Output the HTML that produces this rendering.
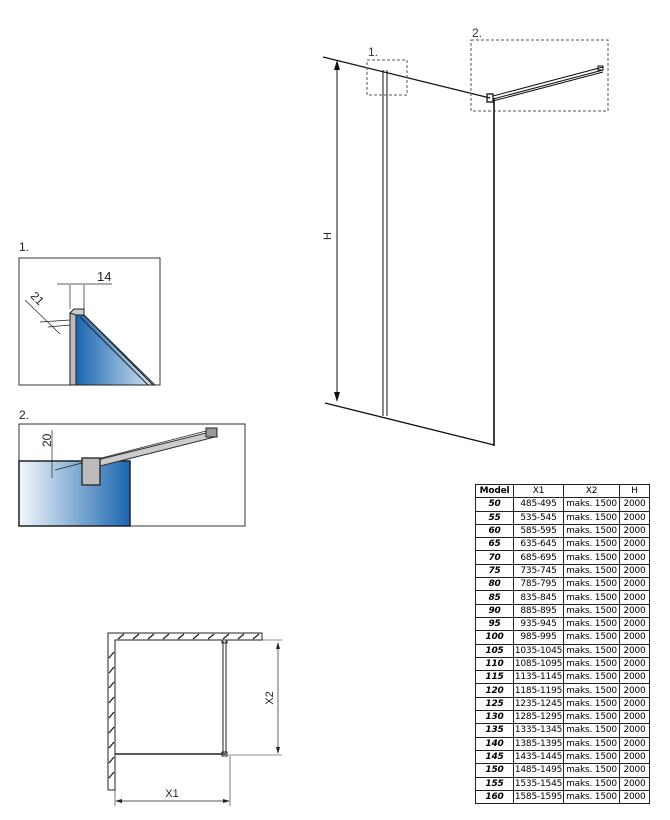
<!DOCTYPE html>
<html><head><meta charset="utf-8"><style>
body{margin:0;background:#fff;width:670px;height:820px;overflow:hidden;position:relative;font-family:"Liberation Sans",sans-serif}
svg{position:absolute;left:0;top:0}
table{position:absolute;left:475px;top:484px;border-collapse:collapse;font-size:9px;font-family:"DejaVu Sans","Liberation Sans",sans-serif;letter-spacing:-0.2px}
td{border:1px solid #222;height:12.3px;padding:0;text-align:center;line-height:12px;white-space:nowrap;overflow:hidden}
td:nth-child(1){width:37px;max-width:37px;font-weight:bold;font-style:italic}
td:nth-child(2){width:49px;max-width:49px}
td:nth-child(3){width:55px;max-width:55px}
td:nth-child(4){width:29px;max-width:29px}
tr:first-child td{font-style:normal}
</style></head><body>
<svg width="670" height="820" viewBox="0 0 670 820">
<defs>
<linearGradient id="g1" x1="0" x2="1"><stop offset="0" stop-color="#1a66b0"/><stop offset="1" stop-color="#d8e8f4"/></linearGradient>
<linearGradient id="g2" x1="0" x2="1"><stop offset="0" stop-color="#f4f8fc"/><stop offset="1" stop-color="#1a66b0"/></linearGradient>
</defs>
<g fill="none" stroke="#111" stroke-width="1">
<line x1="323" y1="57" x2="490" y2="98" stroke-width="1.3"/>
<line x1="325" y1="403" x2="494" y2="445" stroke-width="1.3"/>
<line x1="337" y1="62" x2="337" y2="400"/>
<line x1="383" y1="70" x2="383" y2="416"/><line x1="387" y1="70" x2="387" y2="416"/>
<line x1="494" y1="98" x2="494" y2="446" stroke-width="1.6"/>
<rect x="487" y="94" width="6" height="8" stroke-width="1.3"/>
<line x1="493" y1="96" x2="603" y2="67"/><line x1="493" y1="99" x2="603" y2="70"/><line x1="493" y1="101" x2="603" y2="72"/>
<rect x="598" y="66" width="5" height="4"/>
<g stroke="#555" stroke-dasharray="3,2">
<rect x="367" y="60" width="40" height="35"/>
<rect x="471" y="40" width="137" height="71"/>
</g>
</g>
<polygon points="334,70 340,70 337,60" fill="#111"/>
<polygon points="334,392 340,392 337,402" fill="#111"/>
<text x="331" y="236" font-size="11" transform="rotate(-90 331 236)" text-anchor="middle" fill="#222">H</text>
<text x="368" y="56" font-size="12" fill="#333">1.</text>
<text x="472" y="37" font-size="12" fill="#333">2.</text>

<text x="19" y="251" font-size="12" fill="#222">1.</text>
<rect x="19" y="258" width="141" height="127" fill="none" stroke="#333"/>
<polygon points="76,315 84,315 155,385 76,385" fill="url(#g1)" stroke="#222"/>
<line x1="84" y1="315" x2="153" y2="385" stroke="#222"/><line x1="80" y1="317" x2="148" y2="385" stroke="#222"/>
<rect x="70" y="313" width="6" height="72" fill="#bbb" stroke="#222"/>
<polygon points="70,313 74,309 84,309 84,315 76,315" fill="#ccc" stroke="#222"/>
<g stroke="#222" stroke-width="0.7" fill="none">
<line x1="70" y1="285" x2="70" y2="309"/><line x1="84" y1="285" x2="84" y2="309"/>
<line x1="57" y1="284" x2="112" y2="284"/>
<line x1="25" y1="300" x2="60" y2="334"/>
<line x1="40" y1="322" x2="70" y2="320"/><line x1="48" y1="327" x2="70" y2="325"/>
</g>
<text x="97" y="281" font-size="13" fill="#222">14</text>
<text x="30" y="300" font-size="12" fill="#222" transform="rotate(45 34 298)">21</text>

<text x="19" y="419" font-size="12" fill="#222">2.</text>
<rect x="19" y="424" width="226" height="102" fill="none" stroke="#333"/>
<rect x="19" y="461" width="111" height="65" fill="url(#g2)" stroke="#222" stroke-width="1.5"/>
<polygon points="97,460 210,432 215,437 100,466" fill="#ccc" stroke="#333"/>
<line x1="55" y1="470" x2="210" y2="430" stroke="#222" stroke-width="0.7"/>
<rect x="206" y="428" width="11" height="9" fill="#999" stroke="#222"/>
<rect x="82" y="458" width="18" height="27" fill="#bbb" stroke="#222" stroke-width="1.3"/>
<line x1="52" y1="430" x2="52" y2="478" stroke="#222" stroke-width="0.7"/>
<text x="51" y="447" font-size="12" transform="rotate(-90 51 447)" fill="#222">20</text>

<g stroke="#222" fill="none" stroke-width="1">
<polyline points="108,790 108,633 262,633 262,640 115,640 115,790 108,790"/>
<g stroke-width="1.3">
<line x1="118" y1="639" x2="124" y2="634"/><line x1="133" y1="639" x2="139" y2="634"/><line x1="148" y1="639" x2="154" y2="634"/><line x1="163" y1="639" x2="169" y2="634"/><line x1="178" y1="639" x2="184" y2="634"/><line x1="193" y1="639" x2="199" y2="634"/><line x1="208" y1="639" x2="214" y2="634"/><line x1="223" y1="639" x2="229" y2="634"/><line x1="238" y1="639" x2="244" y2="634"/><line x1="253" y1="639" x2="259" y2="634"/>
<line x1="109" y1="658" x2="114" y2="652"/><line x1="109" y1="673" x2="114" y2="667"/><line x1="109" y1="688" x2="114" y2="682"/><line x1="109" y1="703" x2="114" y2="697"/><line x1="109" y1="718" x2="114" y2="712"/><line x1="109" y1="733" x2="114" y2="727"/><line x1="109" y1="748" x2="114" y2="742"/><line x1="109" y1="763" x2="114" y2="757"/><line x1="109" y1="778" x2="114" y2="772"/>
</g>
<line x1="115" y1="754" x2="226" y2="754" stroke-width="1.6"/>
<line x1="223" y1="641" x2="223" y2="753"/><line x1="226" y1="641" x2="226" y2="753"/>
<rect x="222" y="640" width="5" height="3"/><rect x="222" y="752" width="5" height="4"/>
<line x1="227" y1="640" x2="282" y2="640" stroke-width="0.6"/><line x1="227" y1="755" x2="282" y2="755" stroke-width="0.6"/>
<line x1="278" y1="643" x2="278" y2="752" stroke-width="0.7"/>
<line x1="230" y1="756" x2="230" y2="806" stroke-width="0.6"/><line x1="115" y1="790" x2="115" y2="806" stroke-width="0.6"/>
<line x1="117" y1="801" x2="228" y2="801" stroke-width="0.7"/>
</g>
<polygon points="276,649 280,649 278,642" fill="#222"/><polygon points="276,747 280,747 278,754" fill="#222"/>
<polygon points="122,799 122,803 115,801" fill="#222"/><polygon points="223,799 223,803 230,801" fill="#222"/>
<text x="273" y="698" font-size="11" transform="rotate(-90 273 698)" text-anchor="middle" fill="#222">X2</text>
<text x="172" y="797" font-size="11" text-anchor="middle" fill="#222">X1</text>
</svg>
<table>
<tr><td>Model</td><td>X1</td><td>X2</td><td>H</td></tr>
<tr><td>50</td><td>485-495</td><td>maks. 1500</td><td>2000</td></tr>
<tr><td>55</td><td>535-545</td><td>maks. 1500</td><td>2000</td></tr>
<tr><td>60</td><td>585-595</td><td>maks. 1500</td><td>2000</td></tr>
<tr><td>65</td><td>635-645</td><td>maks. 1500</td><td>2000</td></tr>
<tr><td>70</td><td>685-695</td><td>maks. 1500</td><td>2000</td></tr>
<tr><td>75</td><td>735-745</td><td>maks. 1500</td><td>2000</td></tr>
<tr><td>80</td><td>785-795</td><td>maks. 1500</td><td>2000</td></tr>
<tr><td>85</td><td>835-845</td><td>maks. 1500</td><td>2000</td></tr>
<tr><td>90</td><td>885-895</td><td>maks. 1500</td><td>2000</td></tr>
<tr><td>95</td><td>935-945</td><td>maks. 1500</td><td>2000</td></tr>
<tr><td>100</td><td>985-995</td><td>maks. 1500</td><td>2000</td></tr>
<tr><td>105</td><td>1035-1045</td><td>maks. 1500</td><td>2000</td></tr>
<tr><td>110</td><td>1085-1095</td><td>maks. 1500</td><td>2000</td></tr>
<tr><td>115</td><td>1135-1145</td><td>maks. 1500</td><td>2000</td></tr>
<tr><td>120</td><td>1185-1195</td><td>maks. 1500</td><td>2000</td></tr>
<tr><td>125</td><td>1235-1245</td><td>maks. 1500</td><td>2000</td></tr>
<tr><td>130</td><td>1285-1295</td><td>maks. 1500</td><td>2000</td></tr>
<tr><td>135</td><td>1335-1345</td><td>maks. 1500</td><td>2000</td></tr>
<tr><td>140</td><td>1385-1395</td><td>maks. 1500</td><td>2000</td></tr>
<tr><td>145</td><td>1435-1445</td><td>maks. 1500</td><td>2000</td></tr>
<tr><td>150</td><td>1485-1495</td><td>maks. 1500</td><td>2000</td></tr>
<tr><td>155</td><td>1535-1545</td><td>maks. 1500</td><td>2000</td></tr>
<tr><td>160</td><td>1585-1595</td><td>maks. 1500</td><td>2000</td></tr>
</table>
</body></html>
